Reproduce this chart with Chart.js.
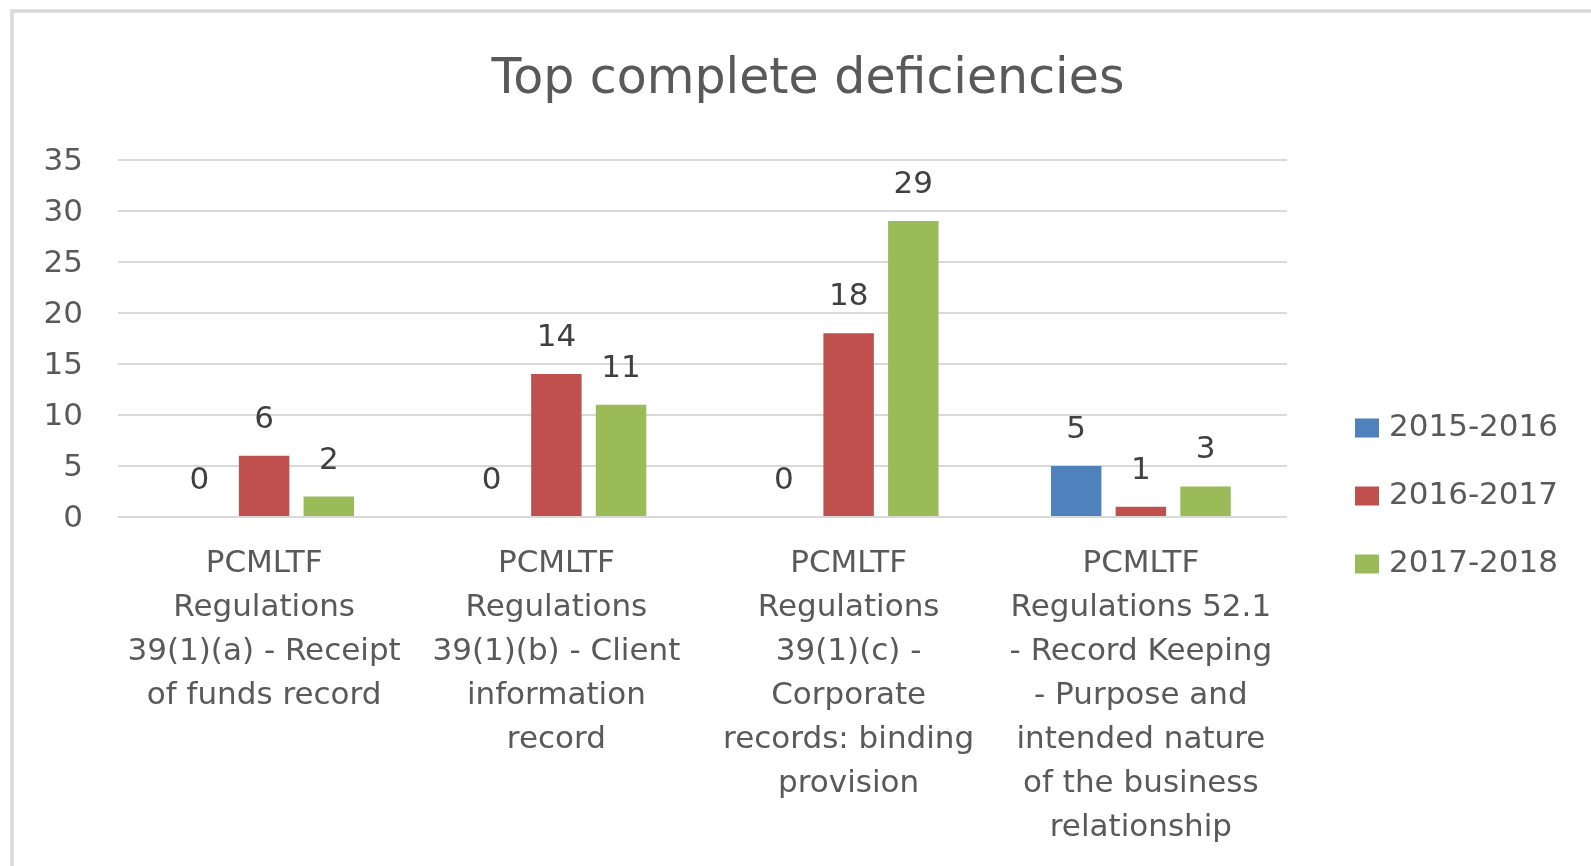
<!DOCTYPE html>
<html>
<head>
<meta charset="utf-8">
<script src="https://cdn.jsdelivr.net/npm/chart.js@4.4.1/dist/chart.umd.min.js"></script>
<style>
  html, body { margin: 0; padding: 0; background: #ffffff; overflow: hidden; }
  #wrap { width: 1591px; height: 866px; position: relative; }
  canvas { display: block; }
</style>
</head>
<body>
<div id="wrap"><canvas id="chart" width="1591" height="866"></canvas></div>
<script>
// ---------- data ----------
const chartTitle = "Top complete deficiencies";
const categories = [
  ["PCMLTF", "Regulations", "39(1)(a) - Receipt", "of funds record"],
  ["PCMLTF", "Regulations", "39(1)(b) - Client", "information", "record"],
  ["PCMLTF", "Regulations", "39(1)(c) -", "Corporate", "records: binding", "provision"],
  ["PCMLTF", "Regulations 52.1", "- Record Keeping", "- Purpose and", "intended nature", "of the business", "relationship"]
];
const seriesNames = ["2015-2016", "2016-2017", "2017-2018"];
const values2015_2016 = [0, 0, 0, 5];
const values2016_2017 = [6, 14, 18, 1];
const values2017_2018 = [2, 11, 29, 3];
const seriesColors = ["#4F81BD", "#C0504D", "#9BBB59"];
const yMin = 0, yMax = 35, yStep = 5;

// ---------- style ----------
const FONT = "DejaVu Sans";
const TEXT = "#595959";
const LABEL_TEXT = "#404040";
const GRID = "#D9D9D9";

const frame = {
  id: "frame",
  beforeDraw(chart) {
    const ctx = chart.ctx;
    ctx.save();
    ctx.fillStyle = "#ffffff";
    ctx.fillRect(0, 0, chart.width, chart.height);
    ctx.strokeStyle = GRID;
    ctx.lineWidth = 3.5;
    ctx.beginPath();
    ctx.moveTo(12, chart.height + 5);
    ctx.lineTo(12, 11);
    ctx.lineTo(chart.width + 5, 11);
    ctx.stroke();
    ctx.restore();
  }
};

const valueLabels = {
  id: "valueLabels",
  afterDatasetsDraw(chart) {
    const ctx = chart.ctx;
    ctx.save();
    ctx.font = "31px '" + FONT + "'";
    ctx.fillStyle = LABEL_TEXT;
    ctx.textAlign = "center";
    ctx.textBaseline = "middle";
    chart.data.datasets.forEach((ds, di) => {
      const meta = chart.getDatasetMeta(di);
      meta.data.forEach((el, i) => {
        ctx.fillText(String(ds.data[i]), el.x, el.y - 36);
      });
    });
    ctx.restore();
  }
};

const sideLegend = {
  id: "sideLegend",
  afterDraw(chart) {
    const ctx = chart.ctx;
    const area = chart.chartArea;
    ctx.save();
    ctx.font = "31px '" + FONT + "'";
    ctx.textAlign = "left";
    ctx.textBaseline = "middle";
    const boxX = area.right + 68, boxW = 24, boxH = 19;
    const y0 = 428, step = 68;
    chart.data.datasets.forEach((ds, i) => {
      const cy = y0 + i * step;
      ctx.fillStyle = ds.backgroundColor;
      ctx.fillRect(boxX, cy - boxH / 2, boxW, boxH);
      ctx.fillStyle = TEXT;
      ctx.fillText(ds.label, boxX + boxW + 10, cy);
    });
    ctx.restore();
  }
};

const datasetValues = [values2015_2016, values2016_2017, values2017_2018];

new Chart(document.getElementById("chart"), {
  type: "bar",
  data: {
    labels: categories,
    datasets: seriesNames.map((name, i) => ({
      label: name,
      data: datasetValues[i],
      backgroundColor: seriesColors[i],
      borderWidth: 0,
      categoryPercentage: 0.664,
      barPercentage: 0.78
    }))
  },
  options: {
    responsive: false,
    animation: false,
    events: [],
    layout: { padding: { left: 25, right: 0, top: 0, bottom: 0 } },
    plugins: {
      legend: { display: false },
      tooltip: { enabled: false },
      title: {
        display: true,
        text: chartTitle,
        color: TEXT,
        font: { family: FONT, size: 49, weight: "normal", lineHeight: 1.2 },
        padding: { top: 51, bottom: 50 }
      }
    },
    scales: {
      x: {
        grid: { display: false, drawTicks: false },
        border: { display: false },
        ticks: {
          color: TEXT,
          font: { family: FONT, size: 31, lineHeight: 44 / 31 },
          padding: 25,
          maxRotation: 0,
          minRotation: 0,
          autoSkip: false
        },
        afterFit(s) { s.height = 349; }
      },
      y: {
        min: yMin,
        max: yMax,
        grid: { color: GRID, lineWidth: 2, drawTicks: false },
        border: { display: false },
        ticks: {
          stepSize: yStep,
          color: TEXT,
          font: { family: FONT, size: 31 },
          padding: 35,
          labelOffset: 2
        },
        afterFit(s) { s.width = 93; }
      },
      yLegendSpace: {
        position: "right",
        display: true,
        grid: { display: false, drawTicks: false },
        border: { display: false },
        ticks: { display: false },
        afterFit(s) { s.width = 304; }
      }
    }
  },
  plugins: [frame, valueLabels, sideLegend]
});
</script>
</body>
</html>
